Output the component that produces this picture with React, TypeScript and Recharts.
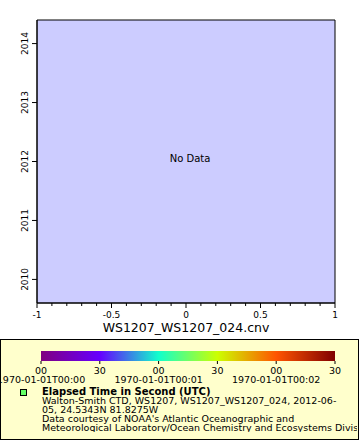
import { ScatterChart, Scatter, XAxis, YAxis, ReferenceArea, Label } from 'recharts';

// no observations in this file, the plot only shows its empty frame
const points: { x: number; y: number }[] = [];

const xTicks = [-1, -0.9, -0.8, -0.7, -0.6, -0.5, -0.4, -0.3, -0.2, -0.1, 0, 0.1, 0.2, 0.3, 0.4, 0.5, 0.6, 0.7, 0.8, 0.9, 1];
const xMajor = [-1, -0.5, 0, 0.5, 1];
const yTicks = [2010, 2011, 2012, 2013, 2014];
const xDomain = [-1, 1];
const yDomain = [2009.6, 2014.4];

// colour bar: elapsed seconds
const timeTicks = [0, 30, 60, 90, 120, 150];
const timeLabels = ['00', '30', '00', '30', '00', '30'];
const dateLabels: Record<number, string> = { 0: '1970-01-01T00:00', 60: '1970-01-01T00:01', 120: '1970-01-01T00:02' };
const colorStops = [
  { offset: 0, color: '#800080' },
  { offset: 0.2, color: '#6600ff' },
  { offset: 0.4, color: '#11ffcc' },
  { offset: 0.6, color: '#ccff00' },
  { offset: 0.8, color: '#ff5500' },
  { offset: 1, color: '#800000' },
];
const barRow = [{ t: 0, v: 0 }];

const legendTitle = 'Elapsed Time in Second (UTC)';
const legendLines = [
  'Walton-Smith CTD, WS1207, WS1207_WS1207_024, 2012-06-',
  '05, 24.5343N 81.8275W',
  "Data courtesy of NOAA's Atlantic Oceanographic and",
  'Meteorological Laboratory/Ocean Chemistry and Ecosystems Division',
];

const font = 'DejaVu Sans';

function XTick(props: any) {
  const { x, y, payload } = props;
  const major = xMajor.includes(payload.value);
  return (
    <g>
      <line x1={x} x2={x} y1={y} y2={y + (major ? 5 : 3)} stroke="#000" />
      {major && (
        <text x={x} y={y + 15} textAnchor="middle" fontSize={9} fontFamily={font} fill="#000">
          {payload.value}
        </text>
      )}
    </g>
  );
}

function YTick(props: any) {
  const { x, y, payload } = props;
  return (
    <g>
      <line x1={x - 5} x2={x} y1={y} y2={y} stroke="#000" />
      <text x={x - 9} y={y} textAnchor="middle" fontSize={9} fontFamily={font} fill="#000"
        transform={`rotate(-90, ${x - 9}, ${y})`}>
        {payload.value}
      </text>
    </g>
  );
}

function TimeTick(props: any) {
  const { x, y, payload, index } = props;
  const date = dateLabels[payload.value];
  return (
    <g>
      <line x1={x} x2={x} y1={y} y2={y + 3} stroke="#000" />
      <text x={x} y={y + 13} textAnchor="middle" fontSize={9.5} fontFamily={font} fill="#000">
        {timeLabels[index]}
      </text>
      {date && (
        <text x={x} y={y + 22} textAnchor="middle" fontSize={9.5} fontFamily={font} fill="#000">
          {date}
        </text>
      )}
    </g>
  );
}

export default function App() {
  return (
    <div style={{ position: 'absolute', left: 0, top: 0, width: 360, height: 440, background: '#fff', overflow: 'hidden', fontFamily: font }}>
      <svg width={0} height={0} style={{ position: 'absolute' }}>
        <defs>
          <linearGradient id="cbar" x1="0" y1="0" x2="1" y2="0">
            {colorStops.map((s) => (
              <stop key={s.offset} offset={s.offset} stopColor={s.color} />
            ))}
          </linearGradient>
        </defs>
      </svg>

      <div style={{ position: 'absolute', left: 0, top: 0 }}>
        <ScatterChart width={360} height={338} margin={{ top: 20, right: 25, bottom: 0, left: 0 }}>
          <ReferenceArea x1={xDomain[0]} x2={xDomain[1]} y1={yDomain[0]} y2={yDomain[1]}
            fill="#ccccff" fillOpacity={1} stroke="#000" strokeWidth={1} ifOverflow="visible">
            <Label value="No Data" position="center" dx={4} dy={-3} fontSize={10} fontFamily={font} fill="#000" />
          </ReferenceArea>
          <XAxis type="number" dataKey="x" domain={xDomain} ticks={xTicks} interval={0} allowDataOverflow
            height={35} tickSize={0} tickMargin={0} tickLine={false} tick={<XTick />} axisLine={{ stroke: '#000' }}>
            <Label value="WS1207_WS1207_024.cnv" position="insideBottom" offset={6} fontSize={12.5} fontFamily={font} fill="#000" />
          </XAxis>
          <YAxis type="number" dataKey="y" domain={yDomain} ticks={yTicks} interval={0} allowDataOverflow
            width={37} tickSize={0} tickMargin={0} tickLine={false} tick={<YTick />} axisLine={{ stroke: '#000' }} />
          <Scatter data={points} fill="#000" isAnimationActive={false} />
        </ScatterChart>
      </div>

      <div style={{ position: 'absolute', left: 0, top: 339, width: 359, height: 101, boxSizing: 'border-box',
        border: '1.5px solid #000', background: '#ffffcc' }} />

      <div style={{ position: 'absolute', left: 0, top: 340, width: 360, height: 50 }}>
        <ScatterChart width={360} height={50} margin={{ top: 11, right: 25, bottom: 0, left: 41 }}>
          <ReferenceArea x1={timeTicks[0]} x2={timeTicks[timeTicks.length - 1]} y1={0} y2={1}
            fill="url(#cbar)" fillOpacity={1} stroke="none" ifOverflow="visible" />
          <XAxis type="number" dataKey="t" domain={[timeTicks[0], timeTicks[timeTicks.length - 1]]} ticks={timeTicks}
            interval={0} height={29} tickSize={0} tickMargin={0} tickLine={false} axisLine={false} tick={<TimeTick />} />
          <YAxis type="number" dataKey="v" domain={[0, 1]} width={0} tick={false} axisLine={false} tickLine={false} />
          <Scatter data={barRow} fill="none" isAnimationActive={false} />
        </ScatterChart>
      </div>

      <div style={{ position: 'absolute', left: 19.5, top: 388.5, width: 5, height: 5, background: '#66ff66', border: '1px solid #000' }} />
      <div style={{ position: 'absolute', left: 42, top: 386.5, width: 315, overflow: 'hidden', whiteSpace: 'nowrap',
        fontSize: 9.5, lineHeight: '9px', color: '#000' }}>
        <div style={{ fontWeight: 'bold', fontSize: 10 }}>{legendTitle}</div>
        {legendLines.map((l) => (
          <div key={l}>{l}</div>
        ))}
      </div>
    </div>
  );
}
